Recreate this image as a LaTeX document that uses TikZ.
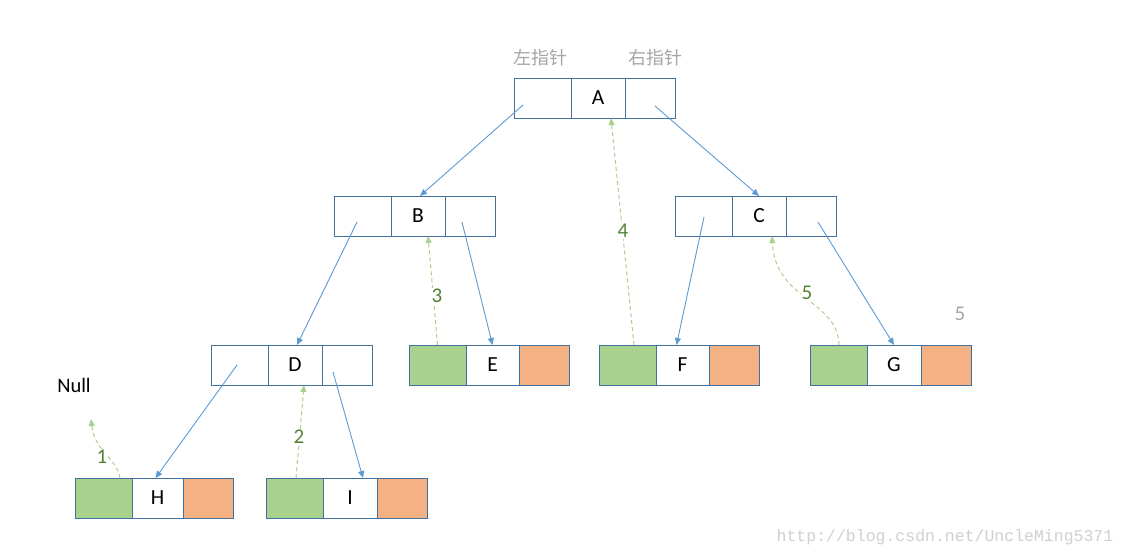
\documentclass[tikz,border=0pt]{standalone}
\usepackage{fontspec}
\setmainfont{Carlito}
\newfontfamily\cjk{Noto Sans CJK SC}
\newfontfamily\wmfont{Liberation Mono}
\usetikzlibrary{arrows.meta,calc}
\definecolor{bord}{HTML}{41719C}
\definecolor{arrblue}{HTML}{5B9BD5}
\definecolor{leafgreen}{HTML}{A9D18E}
\definecolor{leaforange}{HTML}{F4B183}
\definecolor{numgreen}{HTML}{548235}
\definecolor{lbgray}{HTML}{A6A6A6}
\definecolor{wmgray}{HTML}{D0D0D0}
\newcommand\tripnode[5]{%
  \node[lc] (#1l) at (#2,#3) {};
  \node[mc,minimum width=#5] (#1m) at (#1l.east) {#4};
  \node[rc] (#1r) at (#1m.east) {};}
\newcommand\leafnode[5]{%
  \node[lc,fill=leafgreen] (#1l) at (#2,#3) {};
  \node[mc,minimum width=#5] (#1m) at (#1l.east) {#4};
  \node[rc,fill=leaforange] (#1r) at (#1m.east) {};}
\begin{document}
\begin{tikzpicture}[x=1pt,y=-1pt,
  cell/.style={draw=bord,line width=0.9pt,minimum height=40pt,inner sep=0pt,outer sep=0pt,
               font=\fontsize{21.5}{24}\selectfont},
  lc/.style={cell,minimum width=57pt,anchor=west},
  mc/.style={cell,minimum width=54pt,anchor=west},
  rc/.style={cell,minimum width=50pt,anchor=west},
  ptr/.style={draw=arrblue,line width=0.9pt,-{Triangle[length=7pt,width=6pt]}},
  thr/.style={draw=leafgreen,line width=1pt,dash pattern=on 4pt off 3pt,
              -{Triangle[length=7pt,width=6pt,fill=leafgreen]}},
  num/.style={text=numgreen,fill=white,inner sep=1pt,font=\fontsize{21}{24}\selectfont},
  glab/.style={text=lbgray,inner sep=0pt,font=\fontsize{21}{24}\selectfont}]
\useasboundingbox (0,0) rectangle (1127,557);
\fill[white] (0,0) rectangle (1127,557);

\tripnode{A}{514}{98}{A}{54pt}
\tripnode{B}{334}{216}{B}{54pt}
\tripnode{C}{675}{216}{C}{54pt}
\tripnode{D}{211}{365}{D}{54pt}
\leafnode{E}{409}{365}{E}{53pt}
\leafnode{F}{599}{365}{F}{53pt}
\leafnode{G}{810}{365}{G}{54pt}
\leafnode{H}{75}{498}{H}{51pt}
\leafnode{I}{266}{498}{I}{54pt}

\node[glab,font=\cjk\fontsize{18}{20}\selectfont] (lptr) at (540,58) {左指针};
\node[glab,font=\cjk\fontsize{18}{20}\selectfont] (rptr) at (655,58) {右指针};
\node[inner sep=0pt,font=\fontsize{20.5}{22}\selectfont] (null) at (74,385) {Null};
\node[glab] (five) at (960,314) {5};
\node[text=wmgray,inner sep=0pt,font=\wmfont\fontsize{16.5}{20}\selectfont] (wm) at (945,537) {http://blog.csdn.net/UncleMing5371};
\coordinate (null1) at (91,419);

% child pointers
\draw[ptr] ($(Al)+(-19.5,7)$) -- ($(Bm.north)+(2,0)$);
\draw[ptr] ($(Ar)+(5,8)$) -- (Cm.north);
\draw[ptr] ($(Bl)+(-5.5,6)$) -- ($(Dm.north)+(2,0)$);
\draw[ptr] ($(Br)+(-8,6)$) -- (Em.north);
\draw[ptr] ($(Cl)+(0.5,1)$) -- ($(Fm.north)+(-6,0)$);
\draw[ptr] ($(Cr)+(7,6)$) -- (Gm.north);
\draw[ptr] ($(Dl)+(-2.5,0)$) -- ($(Hm.north)+(-2,0)$);
\draw[ptr] ($(Dr)+(-14,7)$) -- ($(Im.north)+(13,0)$);

% thread pointers
\draw[thr] ($(Hl.north)+(16.5,0)$) .. controls (117,458) and (95,452) .. (null1);
\draw[thr] ($(Il.north)+(1.5,0)$) -- ($(Dm.south)+(9,0)$);
\draw[thr] (El.north) -- ($(Bm.south)+(10,0)$);
\draw[thr] ($(Fl.north)+(6.5,0)$) -- ($(Am.south)+(13,0)$);
\draw[thr] ($(Gl.north)+(0.5,0)$) .. controls (838,300) and (775,300) .. ($(Cm.south)+(13,0)$);

\node[num] (n1) at (102,457) {1};
\node[num] (n2) at (299,437) {2};
\node[num] (n3) at (437,296) {3};
\node[num] (n4) at (623,231) {4};
\node[num] (n5) at (807,293) {5};
\end{tikzpicture}
\end{document}
